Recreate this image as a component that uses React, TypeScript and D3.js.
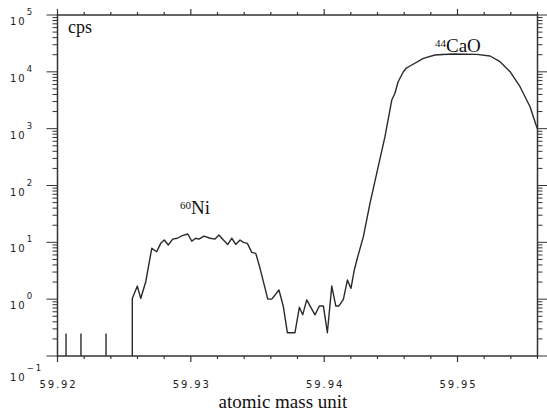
import React, { useRef, useEffect } from 'react';
import * as d3 from 'd3';

// spectrum (mass in amu, counts per second)
const massValues = [
  59.92561, 59.92561, 59.92599, 59.92624, 59.92662, 59.92707, 59.92744, 59.92774, 59.92801,
  59.92831, 59.92864, 59.92899, 59.92936, 59.92977, 59.93007, 59.93037, 59.93061, 59.93099,
  59.93144, 59.93181, 59.93211, 59.93244, 59.93277, 59.93307, 59.93337, 59.93369, 59.93394,
  59.93424, 59.93457, 59.93487, 59.93519, 59.93577, 59.93607, 59.93661, 59.93694, 59.93724,
  59.93781, 59.93814, 59.93839, 59.93869, 59.93931, 59.93964, 59.93994, 59.94024, 59.94057,
  59.94087, 59.94111, 59.94144, 59.94174, 59.94201, 59.94226, 59.94249, 59.94294, 59.94344,
  59.94394, 59.94456, 59.94507, 59.94531, 59.94554, 59.94594, 59.94614, 59.94644, 59.94744,
  59.94831, 59.94891, 59.94969, 59.95144, 59.95244, 59.95319, 59.95394, 59.95469, 59.95544,
  59.95589, 59.956,
];
const cpsValues = [
  0.1, 1.03, 1.7, 1.03, 2.03, 7.85, 6.84, 9.6, 11.0,
  8.97, 11.4, 11.8, 13.1, 14.0, 10.5, 11.8, 11.4, 12.9,
  11.8, 11.4, 13.5, 11.0, 9.2, 11.8, 9.2, 11.0, 10.0,
  9.6, 6.67, 6.4, 3.49, 1.0, 1.0, 1.45, 0.74, 0.257,
  0.257, 0.72, 0.53, 0.97, 0.53, 0.76, 0.76, 0.257, 1.7,
  0.76, 0.76, 0.99, 2.17, 1.55, 3.26, 5.3, 12.6, 49,
  164, 722, 3190, 4190, 6620, 10050, 11460, 12670, 17300,
  19800, 20200, 20600, 20300, 19000, 15100, 10050, 5470, 2430,
  1160, 1000,
];
const spikeMasses = [59.92064, 59.92176, 59.92364];
const spikeCps = 0.25;

const xMajorTicks = [59.92, 59.93, 59.94, 59.95];
const xMinorStep = 0.002;
const yDecades = [-1, 0, 1, 2, 3, 4, 5];
const peakIsotopes = ['60', '44'];
const peakNames = ['Ni', 'CaO'];
const peakMasses = [59.92919, 59.94831];
const peakCps = [31.5, 22100];

const width = 547;
const height = 412;
const margin = { left: 57.5, right: 9.5, top: 15, bottom: 56 };

const App = () => {
  const svgRef = useRef(null);

  useEffect(() => {
    const x = d3.scaleLinear().domain([59.92, 59.956]).range([margin.left, width - margin.right]);
    const y = d3.scaleLog().domain([0.1, 1e5]).range([height - margin.bottom, margin.top]);
    const [x0, x1] = x.range();
    const [y0, y1] = y.range();

    const svg = d3.select(svgRef.current);
    svg.selectAll('*').remove();

    const axisColor = '#333';

    // x ticks (top and bottom, outward)
    const xMinor = d3.range(59.92, 59.9561, xMinorStep);
    const xt = svg.append('g').attr('stroke', axisColor).attr('stroke-width', 1.2);
    xMinor.forEach(v => {
      const major = xMajorTicks.some(m => Math.abs(m - v) < 1e-6);
      const len = major ? 6 : 3;
      xt.append('line').attr('x1', x(v)).attr('x2', x(v)).attr('y1', y0).attr('y2', y0 + len);
      xt.append('line').attr('x1', x(v)).attr('x2', x(v)).attr('y1', y1).attr('y2', y1 - len);
    });

    // y ticks (left and right, outward), log minor ticks
    const yt = svg.append('g').attr('stroke', axisColor).attr('stroke-width', 1);
    yDecades.forEach(d => {
      const ks = d === 5 ? [1] : d3.range(1, 10);
      ks.forEach(k => {
        const v = k * Math.pow(10, d);
        const len = k === 1 ? 11 : 5;
        yt.append('line').attr('x1', x0).attr('x2', x0 - len).attr('y1', y(v)).attr('y2', y(v));
        yt.append('line').attr('x1', x1).attr('x2', x1 + len).attr('y1', y(v)).attr('y2', y(v));
      });
    });

    // frame
    svg.append('rect')
      .attr('x', x0).attr('y', y1)
      .attr('width', x1 - x0).attr('height', y0 - y1)
      .attr('fill', 'none')
      .attr('stroke', axisColor)
      .attr('stroke-width', 1.5);

    // x tick labels
    svg.append('g')
      .selectAll('text')
      .data(xMajorTicks)
      .enter()
      .append('text')
      .attr('x', d => x(d) + 1)
      .attr('y', 388)
      .attr('text-anchor', 'middle')
      .style('font-family', 'DejaVu Sans')
      .style('font-size', '10px')
      .style('letter-spacing', '1.9px')
      .attr('fill', '#222')
      .text(d => d3.format('.2f')(d));

    // y tick labels 10^n
    const yl = svg.append('g')
      .style('font-family', 'DejaVu Sans')
      .style('letter-spacing', '2px')
      .attr('fill', '#222');
    yDecades.forEach(d => {
      const base = y(Math.pow(10, d)) + (d === -1 ? 25 : 10);
      const t = yl.append('text').attr('x', 10).attr('y', base).style('font-size', '10px').text('10');
      t.append('tspan')
        .attr('dy', -10)
        .style('font-size', '8.5px')
        .text(d < 0 ? `\u2212${-d}` : `${d}`);
    });

    // spikes at the bottom
    svg.append('g')
      .selectAll('line')
      .data(spikeMasses)
      .enter()
      .append('line')
      .attr('x1', d => x(d)).attr('x2', d => x(d))
      .attr('y1', y0).attr('y2', y(spikeCps))
      .attr('stroke', '#2a2a2a')
      .attr('stroke-width', 1.4);

    // data line
    const points = massValues.map((m, i) => [m, cpsValues[i]]);
    const chartLine = d3.line()
      .x(d => x(d[0]))
      .y(d => y(Math.max(d[1], 0.1)));

    svg.append('path')
      .attr('fill', 'none')
      .attr('stroke', '#2a2a2a')
      .attr('stroke-width', 1.4)
      .attr('stroke-linejoin', 'round')
      .attr('d', chartLine(points));

    // peak labels
    peakNames.forEach((name, i) => {
      const t = svg.append('text')
        .attr('x', x(peakMasses[i]))
        .attr('y', y(peakCps[i]) - 5)
        .style('font-family', 'Liberation Serif')
        .style('font-size', '11px')
        .attr('fill', '#111')
        .text(peakIsotopes[i]);
      t.append('tspan')
        .attr('dy', 5)
        .style('font-size', '19px')
        .text(name);
    });

    // cps label
    svg.append('text')
      .attr('x', 68)
      .attr('y', 33)
      .style('font-family', 'Liberation Serif')
      .style('font-size', '18px')
      .attr('fill', '#111')
      .text('cps');

    // x-axis label
    svg.append('text')
      .attr('x', 283)
      .attr('y', 408)
      .attr('text-anchor', 'middle')
      .style('font-family', 'Liberation Serif')
      .style('font-size', '19px')
      .attr('fill', '#111')
      .text('atomic mass unit');
  }, []);

  return (
    <svg
      ref={svgRef}
      width={width}
      height={height}
      style={{ position: 'absolute', left: 0, top: 0, background: '#fff' }}
    ></svg>
  );
};

export default App;
